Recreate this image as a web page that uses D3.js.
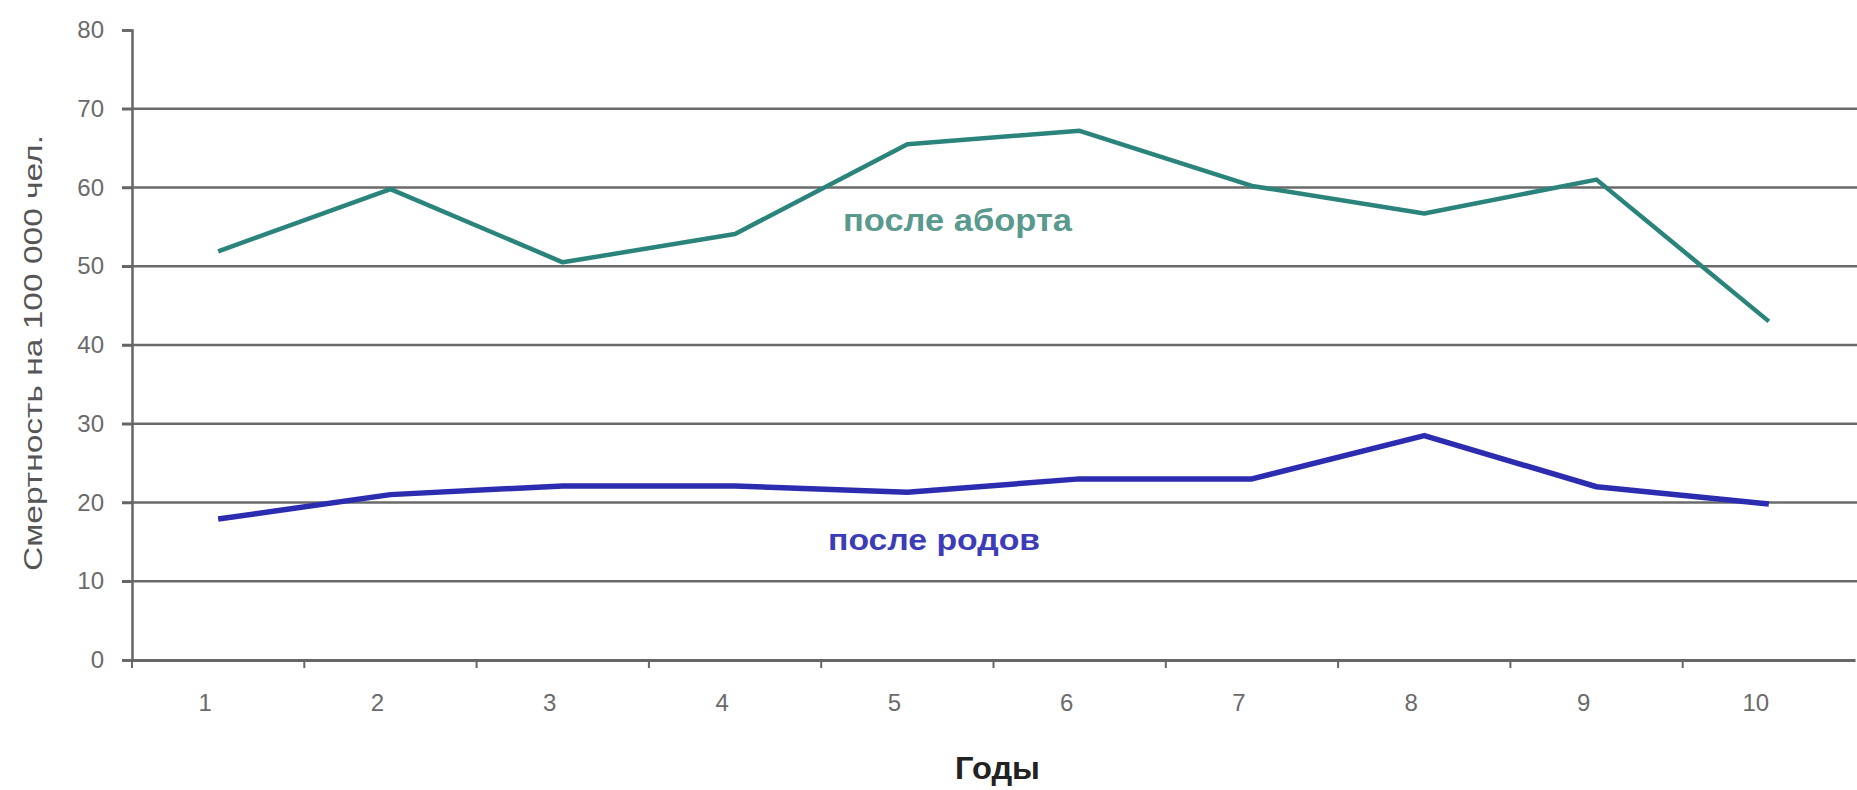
<!DOCTYPE html>
<html><head><meta charset="utf-8">
<script src="https://cdn.jsdelivr.net/npm/d3@7"></script>
<style>html,body{margin:0;padding:0;background:#fff;}svg{display:block;font-family:"Liberation Sans",Arial,sans-serif;}</style>
</head><body>
<script>
const years = ["1","2","3","4","5","6","7","8","9","10"];
const afterAbortion = [51.9, 59.8, 50.5, 54.1, 65.5, 67.2, 60.2, 56.7, 61.0, 43.0];
const afterBirth = [17.9, 21.0, 22.1, 22.1, 21.3, 23.0, 23.0, 28.5, 22.0, 19.8];
const yTicks = [0,10,20,30,40,50,60,70,80];
const yTitle = "Смертность на 100 000 чел.";
const xTitle = "Годы";
const labelAbortion = "после аборта";
const labelBirth = "после родов";

const W = 1857, H = 790;
const svg = d3.select("body").append("svg").attr("width", W).attr("height", H);

const x = d3.scaleBand().domain(years).range([132, 1855]);
const y = d3.scaleLinear().domain([0, 80]).range([660, 30]);

// gridlines
svg.append("g").selectAll("line").data(yTicks.filter(d => d > 0 && d < 80)).join("line")
  .attr("x1", 122).attr("x2", W).attr("y1", d => y(d)).attr("y2", d => y(d))
  .attr("stroke", "#6a6a6a").attr("stroke-width", 2.5);

// y axis
const yAxis = svg.append("g").attr("transform", "translate(132,0)")
  .call(d3.axisLeft(y).tickValues(yTicks).tickSize(10).tickPadding(18));
yAxis.select(".domain").attr("stroke", "#666").attr("stroke-width", 2.5);
yAxis.selectAll(".tick line").attr("stroke", "#666").attr("stroke-width", 2.5);
yAxis.selectAll(".tick text").attr("fill", "#6a6a6a").attr("font-size", 24).attr("font-family", "Liberation Sans, Arial, sans-serif");

// x axis
const xAxis = svg.append("g").attr("transform", "translate(0,660)")
  .call(d3.axisBottom(x).tickSize(0).tickPadding(34));
xAxis.select(".domain").attr("stroke", "#666").attr("stroke-width", 3);
xAxis.selectAll(".tick text").attr("fill", "#6a6a6a").attr("font-size", 24).attr("dx", -13)
  .attr("font-family", "Liberation Sans, Arial, sans-serif");
// boundary ticks
svg.append("g").selectAll("line").data(years).join("line")
  .attr("x1", d => x(d)).attr("x2", d => x(d)).attr("y1", 660).attr("y2", 668)
  .attr("stroke", "#666").attr("stroke-width", 2);

const line = d3.line().x((d, i) => x(years[i]) + x.bandwidth() / 2).y(d => y(d));

svg.append("path").datum(afterAbortion).attr("d", line)
  .attr("fill", "none").attr("stroke", "#2b847b").attr("stroke-width", 4.5).attr("stroke-linejoin", "round");
svg.append("path").datum(afterBirth).attr("d", line)
  .attr("fill", "none").attr("stroke", "#2c2cb0").attr("stroke-width", 5.5).attr("stroke-linejoin", "round");

// series labels
svg.append("text").attr("x", 843).attr("y", 231).text(labelAbortion)
  .attr("fill", "#5a998d").attr("font-size", 32).attr("font-weight", "bold").attr("textLength", 229).attr("lengthAdjust", "spacingAndGlyphs");
svg.append("text").attr("x", 828).attr("y", 550).text(labelBirth)
  .attr("fill", "#3c3cb8").attr("font-size", 30).attr("font-weight", "bold").attr("textLength", 212).attr("lengthAdjust", "spacingAndGlyphs");

// axis titles
svg.append("text").attr("x", 955).attr("y", 779).text(xTitle)
  .attr("fill", "#222").attr("font-size", 31).attr("font-weight", "bold").attr("textLength", 85).attr("lengthAdjust", "spacingAndGlyphs");
svg.append("text").attr("transform", "translate(42,353) rotate(-90)").attr("text-anchor", "middle")
  .text(yTitle).attr("fill", "#555").attr("font-size", 26).attr("textLength", 436).attr("lengthAdjust", "spacingAndGlyphs");
</script>
</body></html>
